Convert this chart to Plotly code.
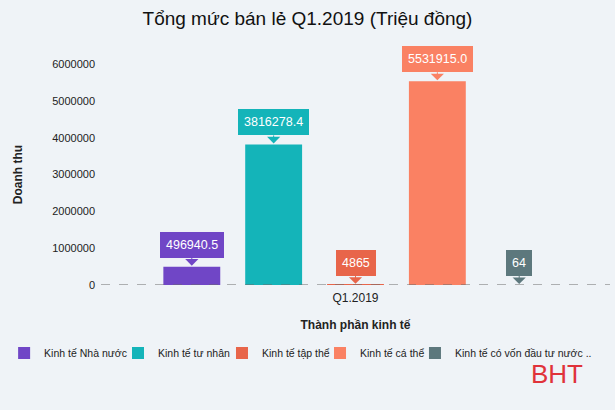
import plotly.graph_objects as go

categories = ["Q1.2019"]
series_names = ["Kinh tế Nhà nước", "Kinh tế tư nhân", "Kinh tế tập thể",
                "Kinh tế cá thể", "Kinh tế có vốn đầu tư nước .."]
series_values = [496940.5, 3816278.4, 4865, 5531915.0, 64]
value_labels = ["496940.5", "3816278.4", "4865", "5531915.0", "64"]
colors = ["#7046c6", "#14b4b9", "#e8654a", "#fa8163", "#5d787d"]
y_ticks = [0, 1000000, 2000000, 3000000, 4000000, 5000000, 6000000]

# legend entry placement (paper x) - one legend box per series
legend_x = [-0.188, 0.0353, 0.2392, 0.4314, 0.6176]

BARGAP = 0.196
BARGROUPGAP = 0.305
FONT = "Liberation Sans, Arial, sans-serif"

fig = go.Figure()
n = len(series_values)
legend_layouts = {}
for i, (name, val, col) in enumerate(zip(series_names, series_values, colors)):
    lname = "legend" if i == 0 else f"legend{i + 1}"
    fig.add_trace(go.Bar(
        x=categories, y=[val], name=name,
        marker=dict(color=col, line=dict(width=0)),
        hoverinfo="skip", legend=lname,
    ))
    legend_layouts[lname] = dict(
        orientation="h", x=legend_x[i], xanchor="left", y=-0.308, yanchor="middle",
        font=dict(size=10.5, color="#222"), itemwidth=30,
        bgcolor="rgba(0,0,0,0)", borderwidth=0,
    )
    offset = (i - (n - 1) / 2) * (1 - BARGAP) / n
    fig.add_annotation(
        x=offset, y=val, xref="x", yref="y",
        text=value_labels[i], showarrow=True,
        ax=0, ay=-22, arrowhead=1, arrowsize=2.2, arrowwidth=1,
        arrowcolor=col, standoff=1,
        bgcolor=col, bordercolor=col, borderpad=6, borderwidth=0,
        font=dict(color="white", size=12.5, family=FONT),
    )

# dashed baseline at zero
fig.add_shape(type="line", xref="paper", yref="y", x0=0, x1=1, y0=0, y1=0,
              line=dict(color="#6a6a6a", width=1, dash="dash"))

# logo
fig.add_annotation(xref="paper", yref="paper", x=0.896, y=-0.404,
                   xanchor="center", yanchor="middle",
                   text="BHT", showarrow=False, borderpad=0,
                   font=dict(color="#e0323a", size=26, family="Liberation Sans Narrow, Arial"))

fig.update_layout(
    width=615, height=410,
    margin=dict(l=100, r=5, t=64, b=125),
    paper_bgcolor="#eff3f7", plot_bgcolor="rgba(0,0,0,0)",
    barmode="group", bargap=BARGAP, bargroupgap=BARGROUPGAP,
    title=dict(text="Tổng mức bán lẻ Q1.2019 (Triệu đồng)", x=0.5, xanchor="center",
               y=0.955, yanchor="middle",
               font=dict(size=19, color="#111111", family=FONT)),
    font=dict(family=FONT, color="#222222"),
    xaxis=dict(title=dict(text="<b>Thành phần kinh tế</b>", font=dict(size=12, color="#222"), standoff=16),
               showgrid=False, zeroline=False, showline=False,
               tickfont=dict(size=12, color="#222"), ticks="", ticklabelstandoff=4),
    yaxis=dict(title=dict(text="<b>Doanh thu</b>", font=dict(size=12, color="#222"), standoff=26),
               range=[0, 6000000], tickvals=y_ticks, tickformat="d",
               showgrid=False, zeroline=False, showline=False,
               tickfont=dict(size=11, color="#222"), ticks="", ticklabelstandoff=5),
    showlegend=True,
    **legend_layouts,
)

fig.write_html("out.html", config={"displayModeBar": False},
               post_script="document.body.style.margin='0';")
